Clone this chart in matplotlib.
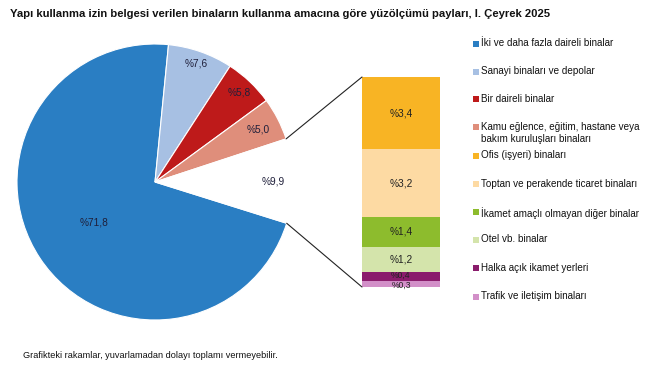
import matplotlib
matplotlib.use('Agg')
import matplotlib.pyplot as plt
from matplotlib.patches import ConnectionPatch, Rectangle
import numpy as np

plt.rcParams['font.family'] = ['Liberation Sans', 'DejaVu Sans']

title = "Yapı kullanma izin belgesi verilen binaların kullanma amacına göre yüzölçümü payları, I. Çeyrek 2025"
footnote = "Grafikteki rakamlar, yuvarlamadan dolayı toplamı vermeyebilir."

pie_categories = ["İki ve daha fazla daireli binalar", "Sanayi binaları ve depolar",
                  "Bir daireli binalar",
                  "Kamu eğlence, eğitim, hastane veya\nbakım kuruluşları binaları", "Diğer"]
pie_values = [71.8, 7.6, 5.8, 5.0, 9.9]
pie_labels = ["%71,8", "%7,6", "%5,8", "%5,0", "%9,9"]
pie_colors = ["#2a7ec3", "#a7c0e3", "#be1a1a", "#df8e7b", "#ffffff"]

bar_categories = ["Ofis (işyeri) binaları", "Toptan ve perakende ticaret binaları",
                  "İkamet amaçlı olmayan diğer binalar", "Otel vb. binalar",
                  "Halka açık ikamet yerleri", "Trafik ve iletişim binaları"]
bar_values = [3.4, 3.2, 1.4, 1.2, 0.4, 0.3]
bar_labels = ["%3,4", "%3,2", "%1,4", "%1,2", "%0,4", "%0,3"]
bar_colors = ["#f8b424", "#fddaa3", "#8dbc2d", "#d4e4ab", "#8a1c6c", "#d28fc8"]

W, H = 664, 366
fig = plt.figure(figsize=(W / 100, H / 100), dpi=100)
fig.patch.set_facecolor('white')

ax = fig.add_axes([0, 0, 1, 1])
cx, cy, R = 155, 184, 138
wedges, _ = ax.pie(pie_values, colors=pie_colors, startangle=-17.4, counterclock=False,
                   center=(cx, cy), radius=R,
                   wedgeprops=dict(linewidth=0.8, edgecolor='white'))
ax.set_xlim(0, W)
ax.set_ylim(0, H)
ax.set_aspect('equal')
ax.axis('off')

label_r = [0.53, 0.91, 0.89, 0.84, 0.855]
for w, lab, rf in zip(wedges, pie_labels, label_r):
    mid = np.deg2rad((w.theta1 + w.theta2) / 2)
    ax.text(cx + rf * R * np.cos(mid), cy + rf * R * np.sin(mid), lab,
            ha='center', va='center', fontsize=7.3, color='#1f1f3a')

# stacked bar for "other"
bax = fig.add_axes([362 / W, (H - 287) / H, 78 / W, 210 / H])
bottom = 0.0
n = len(bar_values)
for i, (v, lab, c) in enumerate(zip(bar_values[::-1], bar_labels[::-1], bar_colors[::-1])):
    bax.bar(0, v, bottom=bottom, width=1.0, color=c, edgecolor='none')
    fs, dy = 7.3, 0.0
    if v < 0.5:
        fs = 6.2
        dy = -0.06 if i == 0 else 0.06
    bax.text(0, bottom + v / 2 + dy, lab, ha='center', va='center', fontsize=fs,
             color='#222222')
    bottom += v
bax.set_xlim(-0.5, 0.5)
bax.set_ylim(0, sum(bar_values))
bax.axis('off')

# connector lines
ow = wedges[4]
t_hi, t_lo = np.deg2rad(max(ow.theta1, ow.theta2)), np.deg2rad(min(ow.theta1, ow.theta2))
for t, yb in [(t_hi, 1), (t_lo, 0)]:
    con = ConnectionPatch(xyA=(cx + R * np.cos(t), cy + R * np.sin(t)), coordsA=ax.transData,
                          xyB=(0, yb), coordsB=bax.transAxes, color='#222222', linewidth=0.8)
    fig.add_artist(con)

# legend
leg_labels = pie_categories[:4] + bar_categories
leg_colors = pie_colors[:4] + bar_colors
leg_y = [44, 71.7, 99.3, 127.3, 156, 184, 212.3, 240, 268.3, 296.7]
for lab, c, y in zip(leg_labels, leg_colors, leg_y):
    fig.add_artist(Rectangle((473 / W, (H - y - 3) / H), 6 / W, 6 / H,
                             transform=fig.transFigure, facecolor=c, edgecolor='none'))
    fig.text(481 / W, (H - y + 5.5) / H, lab, ha='left', va='top', fontsize=7.1,
             color='#111111', linespacing=1.3)

fig.text(10 / W, (H - 14) / H, title, ha='left', va='center', fontsize=8.1,
         fontweight='bold', color='#111111')
fig.text(23 / W, (H - 355) / H, footnote, ha='left', va='center', fontsize=6.6,
         color='#111111')

fig.savefig('out.png', dpi=100, facecolor='white')
